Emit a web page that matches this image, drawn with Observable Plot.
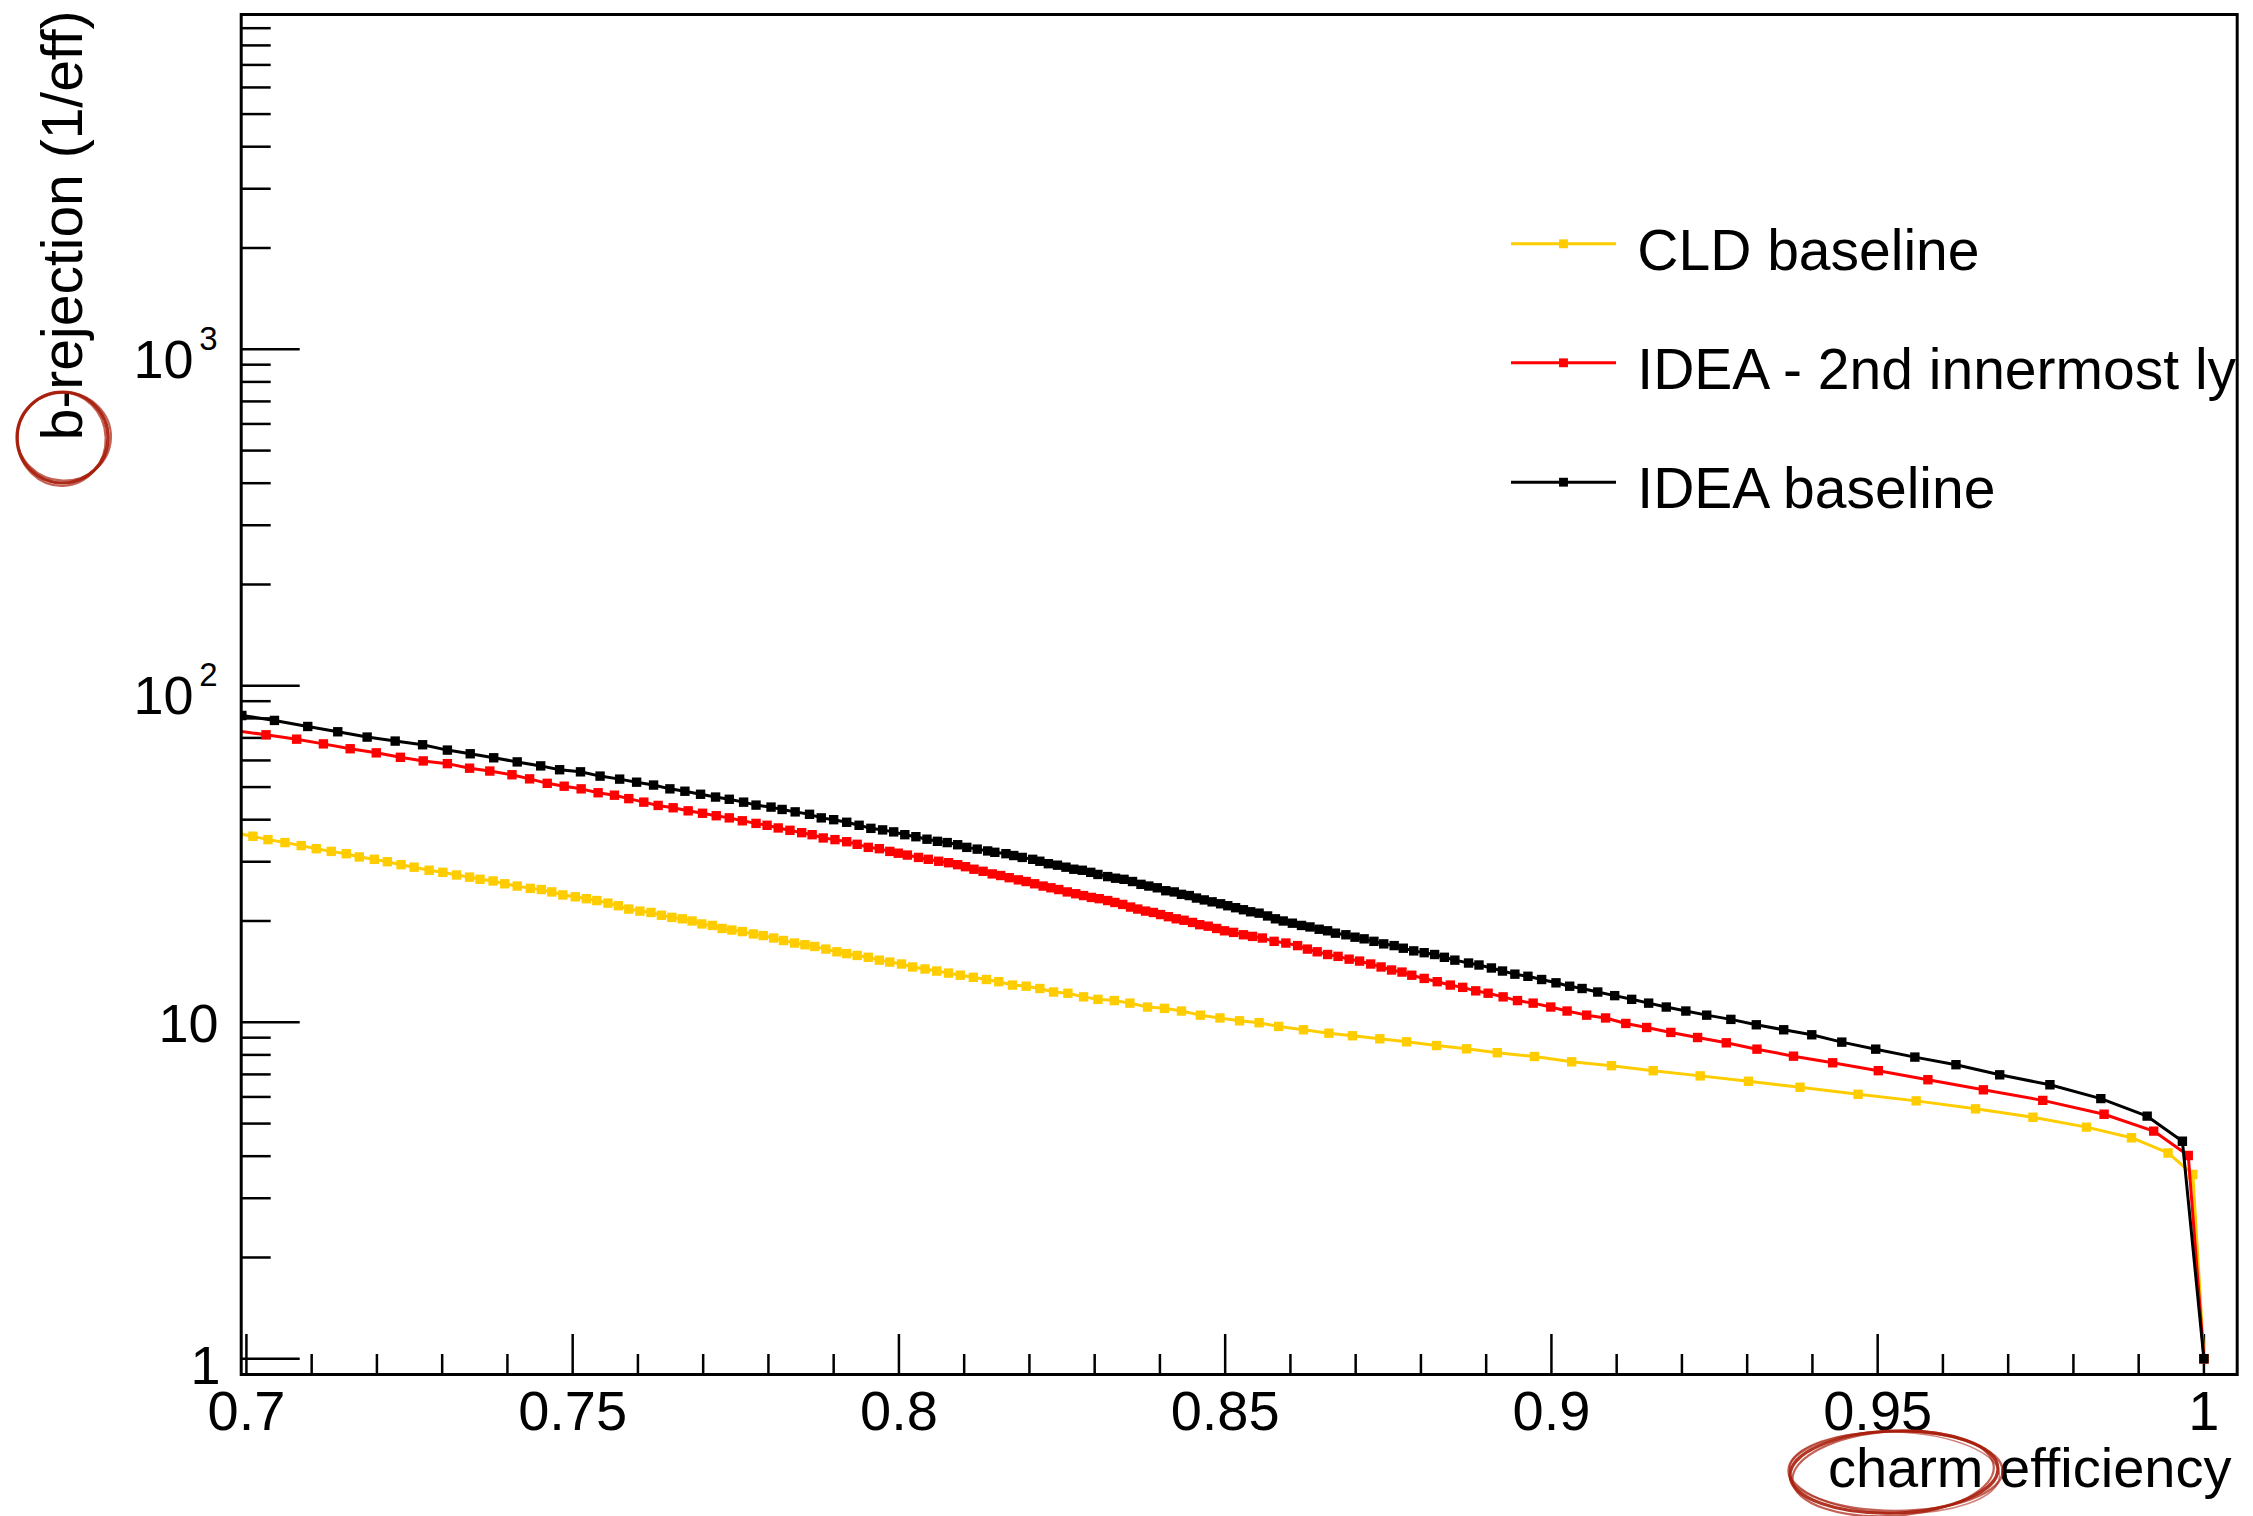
<!DOCTYPE html>
<html><head><meta charset="utf-8">
<script src="https://cdn.jsdelivr.net/npm/d3@7"></script>
<script src="https://cdn.jsdelivr.net/npm/@observablehq/plot@0.6"></script>
<style>
html,body{margin:0;padding:0;background:#fff;}
#chart{width:2253px;height:1516px;overflow:hidden;}
</style></head><body><div id="chart"></div>
<script>
// ---------- data ----------
const seriesNames = ["CLD baseline", "IDEA - 2nd innermost lyr", "IDEA baseline"];
const seriesColors = ["#ffcc00", "#ff0000", "#000000"];

const cldEff = [0.6987,0.7010,0.7033,0.7059,0.7084,0.7107,0.7130,0.7153,0.7173,0.7196,0.7216,0.7237,0.7257,0.7280,0.7301,0.7322,0.7342,0.7358,0.7378,0.7396,0.7415,0.7435,0.7452,0.7468,0.7485,0.7504,0.7521,0.7537,0.7554,0.7570,0.7586,0.7603,0.7620,0.7636,0.7652,0.7668,0.7683,0.7698,0.7714,0.7729,0.7744,0.7760,0.7777,0.7792,0.7808,0.7823,0.7840,0.7856,0.7871,0.7888,0.7905,0.7920,0.7936,0.7953,0.7970,0.7986,0.8004,0.8021,0.8040,0.8058,0.8076,0.8094,0.8114,0.8134,0.8153,0.8174,0.8195,0.8216,0.8237,0.8259,0.8283,0.8305,0.8330,0.8354,0.8381,0.8407,0.8433,0.8462,0.8492,0.8522,0.8552,0.8582,0.8620,0.8659,0.8695,0.8737,0.8778,0.8824,0.8870,0.8917,0.8974,0.9031,0.9092,0.9156,0.9228,0.9302,0.9381,0.9470,0.9559,0.9650,0.9738,0.9820,0.9889,0.9945,0.9983,1.0000];
const cldRej = [36.4,35.7,34.9,34.2,33.5,32.8,32.2,31.7,31.0,30.5,30.0,29.4,28.9,28.3,27.9,27.4,27.0,26.6,26.3,25.8,25.4,25.0,24.8,24.4,23.9,23.6,23.3,23.0,22.6,22.2,21.7,21.4,21.2,20.8,20.5,20.3,20.0,19.6,19.4,19.0,18.8,18.6,18.3,18.1,17.8,17.5,17.2,17.0,16.8,16.5,16.2,16.0,15.8,15.6,15.3,15.1,14.9,14.6,14.4,14.2,14.0,13.8,13.6,13.4,13.2,12.9,12.8,12.6,12.3,12.2,11.9,11.7,11.6,11.4,11.1,11.0,10.8,10.5,10.3,10.1,9.97,9.72,9.50,9.28,9.12,8.93,8.75,8.53,8.34,8.12,7.91,7.63,7.43,7.18,6.93,6.68,6.41,6.11,5.84,5.53,5.22,4.88,4.54,4.09,3.53,1.0];

const ideaLyrEff = [0.6984,0.7030,0.7077,0.7118,0.7159,0.7199,0.7236,0.7271,0.7308,0.7342,0.7373,0.7407,0.7434,0.7461,0.7487,0.7513,0.7539,0.7564,0.7586,0.7609,0.7631,0.7654,0.7677,0.7699,0.7720,0.7740,0.7760,0.7781,0.7798,0.7815,0.7833,0.7851,0.7867,0.7884,0.7902,0.7920,0.7936,0.7953,0.7970,0.7986,0.7999,0.8013,0.8030,0.8045,0.8061,0.8076,0.8090,0.8102,0.8115,0.8129,0.8143,0.8156,0.8169,0.8183,0.8195,0.8208,0.8221,0.8233,0.8245,0.8258,0.8271,0.8283,0.8295,0.8307,0.8320,0.8331,0.8343,0.8355,0.8366,0.8378,0.8390,0.8401,0.8413,0.8425,0.8437,0.8450,0.8461,0.8474,0.8487,0.8499,0.8513,0.8528,0.8542,0.8557,0.8575,0.8593,0.8611,0.8626,0.8641,0.8657,0.8673,0.8690,0.8706,0.8723,0.8739,0.8755,0.8771,0.8786,0.8805,0.8825,0.8845,0.8864,0.8884,0.8903,0.8926,0.8948,0.8972,0.8999,0.9024,0.9054,0.9083,0.9114,0.9146,0.9183,0.9224,0.9268,0.9315,0.9371,0.9431,0.9501,0.9577,0.9662,0.9753,0.9847,0.9923,0.9976,1.0000];
const ideaLyrRej = [73.6,71.5,69.4,67.2,65.0,63.2,61.3,59.8,58.7,56.9,55.8,54.4,52.9,51.3,50.3,49.4,48.1,47.3,46.2,45.1,44.1,43.4,42.5,41.8,41.1,40.5,39.7,39.0,38.5,37.8,37.2,36.6,36.1,35.3,34.9,34.4,33.8,33.1,32.8,32.2,31.8,31.4,30.9,30.5,30.1,29.8,29.4,29.0,28.5,28.1,27.6,27.3,26.9,26.5,26.2,25.8,25.4,25.1,24.8,24.4,24.1,23.8,23.5,23.3,23.0,22.7,22.4,22.0,21.7,21.4,21.2,20.9,20.6,20.3,20.1,19.8,19.5,19.3,19.0,18.7,18.5,18.2,18.0,17.8,17.4,17.2,16.9,16.5,16.2,15.9,15.7,15.4,15.2,14.9,14.6,14.3,14.1,13.8,13.5,13.2,12.9,12.7,12.4,12.2,11.9,11.6,11.4,11.1,10.8,10.5,10.3,9.92,9.65,9.33,9.01,8.69,8.32,7.93,7.58,7.18,6.75,6.30,5.86,5.33,4.75,4.02,1.0];

const ideaEff = [0.6993,0.7043,0.7094,0.7140,0.7185,0.7228,0.7270,0.7308,0.7343,0.7379,0.7415,0.7451,0.7480,0.7512,0.7542,0.7572,0.7598,0.7624,0.7649,0.7672,0.7696,0.7719,0.7740,0.7762,0.7781,0.7804,0.7821,0.7841,0.7863,0.7881,0.7900,0.7920,0.7939,0.7957,0.7975,0.7992,0.8009,0.8026,0.8043,0.8059,0.8074,0.8090,0.8104,0.8120,0.8136,0.8147,0.8164,0.8176,0.8189,0.8205,0.8216,0.8229,0.8243,0.8256,0.8268,0.8281,0.8294,0.8305,0.8320,0.8332,0.8345,0.8358,0.8371,0.8383,0.8396,0.8409,0.8422,0.8433,0.8445,0.8456,0.8468,0.8480,0.8493,0.8504,0.8516,0.8528,0.8539,0.8552,0.8565,0.8577,0.8589,0.8603,0.8617,0.8630,0.8644,0.8657,0.8669,0.8685,0.8699,0.8713,0.8728,0.8743,0.8759,0.8773,0.8789,0.8805,0.8821,0.8836,0.8852,0.8873,0.8889,0.8908,0.8925,0.8944,0.8964,0.8985,0.9007,0.9028,0.9047,0.9071,0.9097,0.9123,0.9149,0.9176,0.9206,0.9238,0.9275,0.9314,0.9356,0.9399,0.9445,0.9497,0.9557,0.9620,0.9687,0.9764,0.9842,0.9913,0.9967,1.0000];
const ideaRej = [81.6,78.9,75.7,73.0,70.4,68.5,66.8,64.4,62.8,61.1,59.4,57.8,56.3,55.5,53.9,52.8,51.7,50.7,49.4,48.6,47.6,46.7,46.0,45.1,44.2,43.6,42.9,42.2,41.5,40.5,40.0,39.3,38.5,37.7,37.3,36.8,36.1,35.6,35.0,34.5,34.2,33.7,33.1,32.7,32.3,32.0,31.7,31.3,30.9,30.5,30.1,29.6,29.3,28.9,28.5,28.3,27.9,27.5,27.1,26.8,26.6,26.2,25.7,25.4,25.1,24.6,24.4,24.0,23.8,23.4,23.1,22.8,22.5,22.2,21.9,21.6,21.3,21.1,20.7,20.3,20.0,19.7,19.4,19.2,18.9,18.7,18.4,18.2,17.9,17.7,17.4,17.1,16.9,16.6,16.3,16.1,15.9,15.6,15.3,15.0,14.8,14.5,14.2,13.9,13.7,13.4,13.1,12.8,12.6,12.3,12.0,11.7,11.4,11.1,10.8,10.5,10.2,9.83,9.50,9.18,8.73,8.32,7.88,7.48,6.98,6.52,5.93,5.26,4.43,1.0];

const xMajorTicks = [0.7, 0.75, 0.8, 0.85, 0.9, 0.95, 1];
const xTickLabels = ["0.7", "0.75", "0.8", "0.85", "0.9", "0.95", "1"];
const yMajorTicks = [1, 10, 100, 1000];
const yTickBase = ["1", "10", "10", "10"];
const yTickExp = ["", "", "2", "3"];
const xTitle = "charm efficiency";
const yTitle = "b-rejection (1/eff)";
const xDomain = [0.6992, 1.0051];
const yDomain = [0.898, 9884];

// ---------- layout / style ----------
const W = 2253, H = 1516;
const mL = 240.7, mR = 16.3, mT = 14, mB = 142;
const FONT = "'Liberation Sans', Arial, Helvetica, sans-serif";

const effs = [cldEff, ideaLyrEff, ideaEff];
const rejs = [cldRej, ideaLyrRej, ideaRej];
const series = seriesNames.map((name, i) => ({
  name, color: seriesColors[i],
  points: effs[i].map((e, j) => ({x: e, y: rejs[i][j]})).filter(p => p.y !== undefined)
}));

const xMinorTicks = d3.range(70, 101).filter(k => k % 5 !== 0).map(k => k / 100);
const yMinorTicks = yMajorTicks.flatMap(p => [2,3,4,5,6,7,8,9].map(k => k * p)).filter(v => v < yDomain[1]);

const tickStyle = {stroke: "black", strokeWidth: 2.5, tickFormat: () => ""};

const marks = [];
// ticks (inward, ROOT style)
marks.push(Plot.axisX({ticks: xMajorTicks, tickSize: -40, ...tickStyle}));
marks.push(Plot.axisX({ticks: xMinorTicks, tickSize: -20, ...tickStyle}));
marks.push(Plot.axisY({ticks: yMajorTicks, tickSize: -59, ...tickStyle}));
marks.push(Plot.axisY({ticks: yMinorTicks, tickSize: -30, ...tickStyle}));
// x tick labels
marks.push(Plot.axisX({ticks: xMajorTicks, tickSize: 0, tickPadding: 16, fontSize: 56,
  tickFormat: d => xTickLabels[xMajorTicks.indexOf(d)]}));
// y tick labels
const yLab = yMajorTicks.map((v, i) => ({v, base: yTickBase[i], exp: yTickExp[i]}));
marks.push(Plot.text(yLab.filter(d => d.base === "1"), {y: "v", text: "base", frameAnchor: "left", lineAnchor: "middle", textAnchor: "end", dx: -20.7, dy: 7.7, fontSize: 54, fill: "black"}));
marks.push(Plot.text(yLab.filter(d => d.base === "10" && !d.exp), {y: "v", text: "base", frameAnchor: "left", lineAnchor: "middle", textAnchor: "end", dx: -22.7, dy: 2.9, fontSize: 54, fill: "black"}));
marks.push(Plot.text(yLab.filter(d => d.exp), {y: "v", text: "base", frameAnchor: "left", lineAnchor: "middle", textAnchor: "end", dx: -47.7, dy: 11, fontSize: 54, fill: "black"}));
marks.push(Plot.text(yLab.filter(d => d.exp), {y: "v", text: "exp", frameAnchor: "left", lineAnchor: "middle", textAnchor: "end", dx: -23.7, dy: -10, fontSize: 33, fill: "black"}));

// curves
for (const s of series) {
  marks.push(Plot.line(s.points, {x: "x", y: "y", stroke: s.color, strokeWidth: 3, clip: true}));
  marks.push(Plot.dot(s.points, {x: "x", y: "y", symbol: "square", r: 5.3, fill: s.color, stroke: "none", clip: true}));
}

// legend (inside frame, text clipped by frame)
const legendRowDy = [229.3, 348.3, 467.7];
const hline = {draw(ctx) { ctx.moveTo(-52.5, 0); ctx.lineTo(52.5, 0); }};
series.forEach((s, i) => {
  marks.push(Plot.dot([s.name], {frameAnchor: "top-left", dx: 1322.3, dy: legendRowDy[i], symbol: hline, fill: "none", stroke: s.color, strokeWidth: 3}));
  marks.push(Plot.dot([s.name], {frameAnchor: "top-left", dx: 1322.3, dy: legendRowDy[i], symbol: "square", r: 5, fill: s.color, stroke: "none"}));
  marks.push(Plot.text([s.name], {frameAnchor: "top-left", lineAnchor: "top", dx: 1396.1, dy: legendRowDy[i] - 14.5, text: d => d, textAnchor: "start", fontSize: 57, fill: "black", clip: true}));
});

// axis titles
marks.push(Plot.text([yTitle], {frameAnchor: "top-left", lineAnchor: "top", text: d => d, rotate: -90, textAnchor: "end", dx: -199.5, dy: -4, fontSize: 57, fill: "black"}));
marks.push(Plot.text([xTitle], {frameAnchor: "bottom-right", lineAnchor: "top", text: d => d, textAnchor: "end", dx: -5.7, dy: 73.2, fontSize: 56, fill: "black"}));

marks.push(Plot.frame({stroke: "black", strokeWidth: 3}));

const chart = Plot.plot({
  width: W, height: H,
  marginLeft: mL, marginRight: mR, marginTop: mT, marginBottom: mB,
  x: {domain: xDomain, label: null},
  y: {type: "log", domain: yDomain, label: null},
  style: {fontFamily: FONT, fontSize: "54px", background: "white", color: "black", overflow: "visible"},
  marks
});
document.getElementById("chart").appendChild(chart);

// hand-drawn red circles (annotation)
const svg = d3.select(chart);
const ann = svg.append("g").attr("fill", "none").attr("stroke", "#a81e0c").attr("stroke-linecap", "round");
function scribble(cx, cy, rx, ry, rot) {
  const passes = [[0, 0, 0, 1, 3.2, 0.9], [1.5, -1, 2, 1.03, 2.2, 0.7], [-1, 1.5, -2, 0.97, 2.2, 0.7], [0.5, 0.5, 4, 1.01, 1.5, 0.55]];
  for (const [ox, oy, dr, k, w, o] of passes) {
    ann.append("ellipse")
      .attr("cx", cx + ox).attr("cy", cy + oy)
      .attr("rx", rx * k).attr("ry", ry * (2 - k))
      .attr("transform", `rotate(${rot + dr} ${cx} ${cy})`)
      .attr("stroke-width", w).attr("opacity", o);
  }
}
scribble(62.5, 437.5, 45.5, 45.5, 0);
scribble(1894, 1472, 104, 41, -2);
</script></body></html>
